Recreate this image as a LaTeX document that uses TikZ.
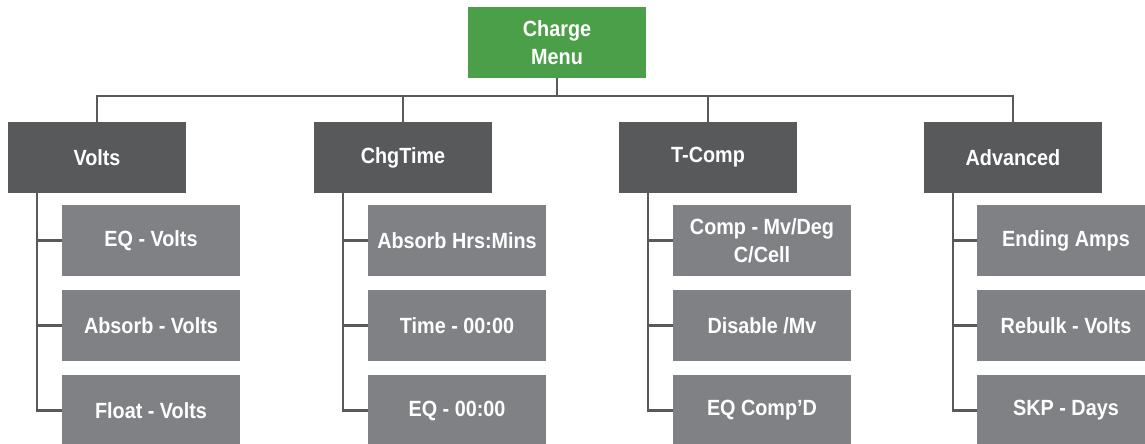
\documentclass[tikz,border=0pt]{standalone}
\usepackage{fontspec}
\newfontfamily\menufont{Liberation Sans}[FakeStretch=0.9]
\definecolor{menugreen}{HTML}{4B9F48}
\definecolor{menudark}{HTML}{58595B}
\definecolor{menulight}{HTML}{808184}
\tikzset{
  menubox/.style={minimum width=178pt, minimum height=71pt, inner sep=0pt,
    text=white, align=center, font=\menufont\bfseries\fontsize{22}{28}\selectfont},
  rootbox/.style={menubox, fill=menugreen},
  catbox/.style={menubox, fill=menudark},
  itembox/.style={menubox, fill=menulight},
  link/.style={draw=menudark, line width=2.8pt}
}

\begin{document}
\begin{tikzpicture}[x=1pt,y=-1pt]
        \useasboundingbox (0,0) rectangle (1145,444);
        \node[rootbox] (root) at (557,42.5) {Charge\\Menu};
        % categories
        \node[catbox] (volts) at (97,157.5) {Volts};
        \node[catbox] (chgtime) at (403,157.5) {ChgTime};
        \node[catbox] (tcomp) at (708,157.5) {T-Comp};
        \node[catbox] (advanced) at (1013,157.5) {Advanced};
        % items
        \node[itembox] (volts1) at (151,240.5) {EQ - Volts};
        \node[itembox] (volts2) at (151,325.5) {Absorb - Volts};
        \node[itembox] (volts3) at (151,410.5) {Float - Volts};
        \node[itembox] (chgtime1) at (457,240.5) {Absorb Hrs:Mins};
        \node[itembox] (chgtime2) at (457,325.5) {Time - 00:00};
        \node[itembox] (chgtime3) at (457,410.5) {EQ - 00:00};
        \node[itembox] (tcomp1) at (762,240.5) {Comp - Mv/Deg\\C/Cell};
        \node[itembox] (tcomp2) at (762,325.5) {Disable /Mv};
        \node[itembox] (tcomp3) at (762,410.5) {EQ Comp’D};
        \node[itembox] (advanced1) at (1066,240.5) {Ending Amps};
        \node[itembox] (advanced2) at (1066,325.5) {Rebulk - Volts};
        \node[itembox] (advanced3) at (1066,410.5) {SKP - Days};
        \coordinate (bar) at (0,96);
        \foreach \c in {volts,chgtime,tcomp,advanced}{
          \draw[link] (root.south) -- (root.south |- bar) -| (\c.north);
          \foreach \i in {1,2,3}
            \draw[link] ([xshift=-60pt]\c.south) |- (\c\i.west);
        }
      \end{tikzpicture}
\end{document}
